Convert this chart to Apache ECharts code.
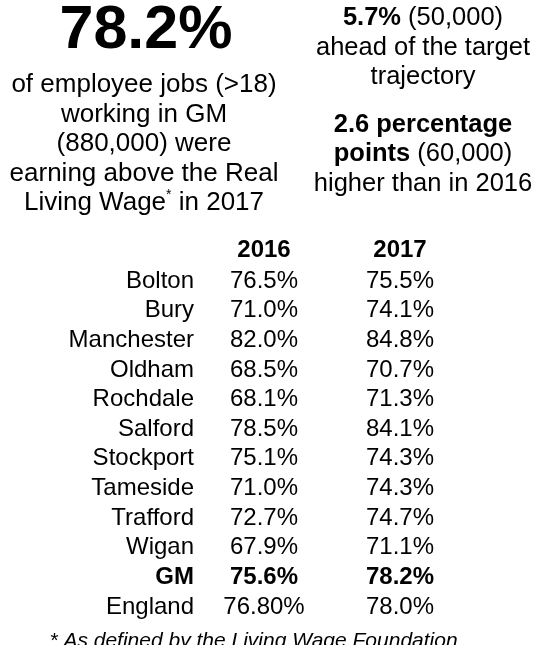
<!DOCTYPE html>
<html>
<head>
<meta charset="utf-8">
<script src="https://cdn.jsdelivr.net/npm/echarts@6/dist/echarts.min.js"></script>
<style>
html,body{margin:0;padding:0;background:#fff;}
#chart{width:537px;height:645px;}
</style>
</head>
<body>
<div id="chart"></div>
<script>
// ---- data ----
const years = ['2016', '2017'];
const areas = ['Bolton', 'Bury', 'Manchester', 'Oldham', 'Rochdale', 'Salford', 'Stockport', 'Tameside', 'Trafford', 'Wigan', 'GM', 'England'];
const values2016 = [76.5, 71.0, 82.0, 68.5, 68.1, 78.5, 75.1, 71.0, 72.7, 67.9, 75.6, 76.8];
const values2017 = [75.5, 74.1, 84.8, 70.7, 71.3, 84.1, 74.3, 74.3, 74.7, 71.1, 78.2, 78.0];
const decimals2016 = [1, 1, 1, 1, 1, 1, 1, 1, 1, 1, 1, 2];
const decimals2017 = [1, 1, 1, 1, 1, 1, 1, 1, 1, 1, 1, 1];
const boldRow = 'GM';
const headline = '78.2%';
const headlineText = ['of employee jobs (>18)', 'working in GM', '(880,000) were', 'earning above the Real', 'Living Wage{sup|*} in 2017'];
const footnote = '* As defined by the Living Wage Foundation';

const FONT = '"Liberation Sans", Arial, sans-serif';

function makeSeries(year, vals, decs) {
  return {
    type: 'scatter',
    symbolSize: 0,
    silent: true,
    itemStyle: {opacity: 1},
    label: {show: true, position: 'inside', color: '#000', opacity: 1, fontSize: 24, fontFamily: FONT},
    data: areas.map((a, i) => ({
      value: [year, a],
      label: {
        show: true,
        position: 'inside',
        formatter: vals[i].toFixed(decs[i]) + '%',
        fontSize: 24,
        fontFamily: FONT,
        color: '#000',
        opacity: 1,
        fontWeight: a === boldRow ? 'bold' : 'normal'
      }
    }))
  };
}

const chart = echarts.init(document.getElementById('chart'), null, {renderer: 'canvas'});
chart.setOption({
  animation: false,
  backgroundColor: '#fff',
  grid: {left: 196, right: 69, top: 266.2, bottom: 23.2},
  xAxis: {
    type: 'category',
    data: years,
    position: 'top',
    axisLine: {show: false},
    axisTick: {show: false},
    splitLine: {show: false},
    axisLabel: {
      margin: 16,
      verticalAlign: 'middle',
      fontSize: 24,
      fontWeight: 'bold',
      fontFamily: FONT,
      color: '#000'
    }
  },
  yAxis: {
    type: 'category',
    data: areas,
    inverse: true,
    axisLine: {show: false},
    axisTick: {show: false},
    splitLine: {show: false},
    axisLabel: {
      interval: 0,
      margin: 2,
      fontSize: 24,
      fontFamily: FONT,
      color: '#000',
      formatter: v => v === boldRow ? '{b|' + v + '}' : v,
      rich: {b: {fontSize: 24, fontWeight: 'bold', fontFamily: FONT, color: '#000'}}
    }
  },
  series: [
    makeSeries(years[0], values2016, decimals2016),
    makeSeries(years[1], values2017, decimals2017)
  ],
  graphic: [
    {
      type: 'text', x: 146, y: 31,
      style: {text: headline, fontSize: 61, fontWeight: 'bold', fontFamily: FONT, fill: '#000', textAlign: 'center', textVerticalAlign: 'middle'}
    },
    {
      type: 'text', x: 144, y: 144,
      style: {
        text: headlineText.join('\n'),
        fontSize: 26, lineHeight: 29.5, fontFamily: FONT, fill: '#000',
        textAlign: 'center', textVerticalAlign: 'middle',
        rich: {sup: {fontSize: 14, fontFamily: FONT, fill: '#000', verticalAlign: 'top', lineHeight: 29.5, padding: [0, 0, 10, 0]}}
      }
    },
    {
      type: 'text', x: 423, y: 47.5,
      style: {
        text: '{b|5.7%} (50,000)\nahead of the target\ntrajectory',
        fontSize: 25.5, lineHeight: 29.5, fontFamily: FONT, fill: '#000',
        textAlign: 'center', textVerticalAlign: 'middle',
        rich: {b: {fontSize: 25.5, fontWeight: 'bold', fontFamily: FONT, fill: '#000', lineHeight: 29.5}}
      }
    },
    {
      type: 'text', x: 423, y: 154,
      style: {
        text: '{b|2.6 percentage}\n{b|points} (60,000)\nhigher than in 2016',
        fontSize: 25.5, lineHeight: 29.5, fontFamily: FONT, fill: '#000',
        textAlign: 'center', textVerticalAlign: 'middle',
        rich: {b: {fontSize: 25.5, fontWeight: 'bold', fontFamily: FONT, fill: '#000', lineHeight: 29.5}}
      }
    },
    {
      type: 'text', x: 253.5, y: 641,
      style: {text: footnote, fontSize: 21, fontStyle: 'italic', fontFamily: FONT, fill: '#000', textAlign: 'center', textVerticalAlign: 'middle'}
    }
  ]
});
</script>
</body>
</html>
